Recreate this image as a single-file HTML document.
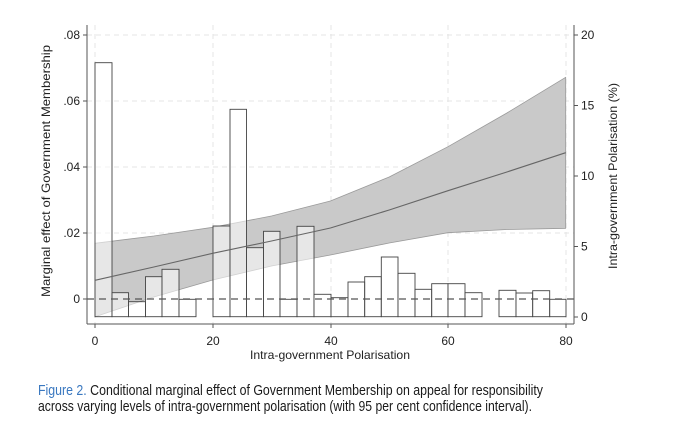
<!DOCTYPE html>
<html><head><meta charset="utf-8"><style>
html,body{margin:0;padding:0;background:#fff;}
svg{display:block;}
</style></head><body>
<svg width="679" height="437" viewBox="0 0 679 437" xmlns="http://www.w3.org/2000/svg" font-family="Liberation Sans, sans-serif">
<rect width="679" height="437" fill="#fff"/>
<g stroke="#e4e4e4" stroke-width="1" stroke-dasharray="5,4" fill="none">
<line x1="87" y1="35" x2="574" y2="35"/>
<line x1="87" y1="101" x2="574" y2="101"/>
<line x1="87" y1="167" x2="574" y2="167"/>
<line x1="87" y1="233" x2="574" y2="233"/>
<line x1="95" y1="25" x2="95" y2="324"/>
<line x1="213" y1="25" x2="213" y2="324"/>
<line x1="331" y1="25" x2="331" y2="324"/>
<line x1="448" y1="25" x2="448" y2="324"/>
<line x1="566" y1="25" x2="566" y2="324"/>
</g>
<path d="M95,243.3 L153.8,236 L212.7,227.3 L271.5,216 L330.4,201 L389.2,177 L448,146.7 L506.9,113 L565.7,77.3 L565.7,228.3 L506.9,229.5 L448,232.7 L389.2,243 L330.4,255 L271.5,266 L212.7,280 L153.8,297 L95,316.7 Z" fill="#c9c9c9" stroke="#9a9a9a" stroke-width="0.8" stroke-linejoin="round"/>
<g fill="#fff" stroke="#444" stroke-width="0.9" fill-opacity="0.55">
<rect x="95" y="62.7" width="17" height="254"/>
<rect x="112" y="292.7" width="16.5" height="24"/>
<rect x="128.5" y="301.7" width="17" height="15"/>
<rect x="145.5" y="276.7" width="16.5" height="40"/>
<rect x="162" y="269.3" width="17" height="47.4"/>
<rect x="179" y="299.3" width="17" height="17.4"/>
<rect x="213" y="226" width="17" height="90.7"/>
<rect x="230" y="109.3" width="16.5" height="207.4"/>
<rect x="246.5" y="247.7" width="17" height="69"/>
<rect x="263.5" y="231.3" width="16.5" height="85.4"/>
<rect x="280" y="299.3" width="17" height="17.4"/>
<rect x="297" y="226.3" width="17" height="90.4"/>
<rect x="314" y="294.3" width="17" height="22.4"/>
<rect x="331" y="297.7" width="17" height="19"/>
<rect x="348" y="282" width="16.7" height="34.7"/>
<rect x="364.7" y="276.7" width="16.6" height="40"/>
<rect x="381.3" y="257" width="16.7" height="59.7"/>
<rect x="398" y="273.3" width="17" height="43.4"/>
<rect x="415" y="289.3" width="16.7" height="27.4"/>
<rect x="431.7" y="283.7" width="16.3" height="33"/>
<rect x="448" y="283.7" width="17" height="33"/>
<rect x="465" y="292.7" width="17" height="24"/>
<rect x="499" y="290.3" width="17" height="26.4"/>
<rect x="516" y="293" width="16.7" height="23.7"/>
<rect x="532.7" y="290.7" width="17" height="26"/>
<rect x="549.7" y="299.3" width="16.3" height="17.4"/>
</g>
<polyline points="95,280.3 153.8,267 212.7,253.3 271.5,241 330.4,228 389.2,210 448,190.7 506.9,172 565.7,152.7" fill="none" stroke="#666" stroke-width="1.1" stroke-linejoin="round"/>
<line x1="87" y1="299" x2="574" y2="299" stroke="#555" stroke-width="1.3" stroke-dasharray="7,5"/>
<g stroke="#555" stroke-width="1" fill="none">
<line x1="87" y1="25" x2="87" y2="324"/>
<line x1="87" y1="324" x2="574" y2="324"/>
<line x1="574" y1="25" x2="574" y2="324"/>
<line x1="83" y1="35" x2="87" y2="35"/><line x1="83" y1="101" x2="87" y2="101"/><line x1="83" y1="167" x2="87" y2="167"/><line x1="83" y1="233" x2="87" y2="233"/><line x1="83" y1="299" x2="87" y2="299"/>
<line x1="95" y1="324" x2="95" y2="328"/><line x1="213" y1="324" x2="213" y2="328"/><line x1="331" y1="324" x2="331" y2="328"/><line x1="448" y1="324" x2="448" y2="328"/><line x1="566" y1="324" x2="566" y2="328"/>
<line x1="574" y1="35" x2="578" y2="35"/><line x1="574" y1="105.5" x2="578" y2="105.5"/><line x1="574" y1="176" x2="578" y2="176"/><line x1="574" y1="246.5" x2="578" y2="246.5"/><line x1="574" y1="317" x2="578" y2="317"/>
</g>
<g font-size="12" fill="#222">
<g text-anchor="end">
<text x="80" y="39">.08</text><text x="80" y="105">.06</text><text x="80" y="171">.04</text><text x="80" y="237">.02</text><text x="80" y="303">0</text>
</g>
<g text-anchor="middle">
<text x="95" y="345">0</text><text x="213" y="345">20</text><text x="331" y="345">40</text><text x="448" y="345">60</text><text x="566" y="345">80</text>
<text x="330" y="359" textLength="160" lengthAdjust="spacingAndGlyphs">Intra-government Polarisation</text>
</g>
<g text-anchor="start">
<text x="581" y="39">20</text><text x="581" y="109.5">15</text><text x="581" y="180">10</text><text x="581" y="250.5">5</text><text x="581" y="321">0</text>
</g>
<text transform="translate(50,171) rotate(-90)" text-anchor="middle" textLength="252" lengthAdjust="spacingAndGlyphs">Marginal effect of Government Membership</text>
<text transform="translate(617,176) rotate(-90)" text-anchor="middle" textLength="186" lengthAdjust="spacingAndGlyphs">Intra-government Polarisation (%)</text>
</g>
<g font-size="14.5" font-family="Liberation Sans Narrow, Liberation Sans, sans-serif">
<text x="38" y="395" textLength="505" lengthAdjust="spacingAndGlyphs"><tspan fill="#3a78c0">Figure 2.</tspan><tspan fill="#1a1a1a"> Conditional marginal effect of Government Membership on appeal for responsibility</tspan></text>
<text x="38" y="411" fill="#1a1a1a" textLength="494" lengthAdjust="spacingAndGlyphs">across varying levels of intra-government polarisation (with 95 per cent confidence interval).</text>
</g>
</svg>
</body></html>
